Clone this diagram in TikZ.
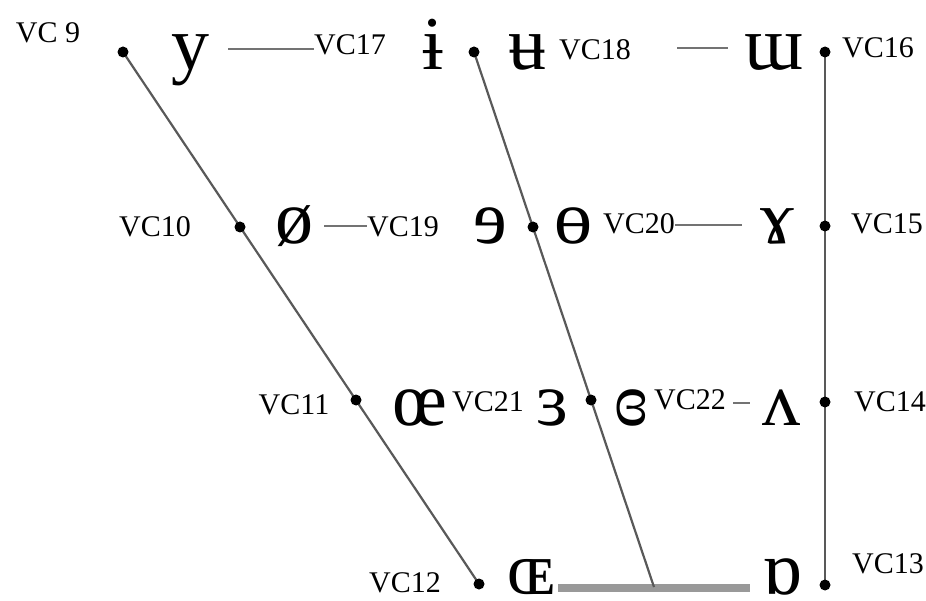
\documentclass[tikz,border=0pt]{standalone}
\usepackage{fontspec}
\setmainfont{Liberation Serif}
\begin{document}
\begin{tikzpicture}[x=1pt,y=-1pt,
  dot/.style={circle,fill=black,inner sep=0pt,minimum size=11pt},
  ipa/.style={font=\fontsize{76}{80}\selectfont,inner sep=0pt,anchor=base},
  vc/.style={font=\fontsize{30}{32}\selectfont,inner sep=0pt},
  chart/.style={draw=black!65,line width=2.2pt},
  tie/.style={draw=black!55,line width=2.4pt},
  basebar/.style={draw=black!40,line width=8pt}]
\useasboundingbox (0,0) rectangle (926,601);
% coordinates of the dots
\coordinate (p1) at (123,52);
\coordinate (p2) at (240,227);
\coordinate (p3) at (356,400);
\coordinate (p4) at (479,584);
\coordinate (q1) at (474,52);
\coordinate (q2) at (533,227);
\coordinate (q3) at (591,400);
\coordinate (qj) at (654,587);
\coordinate (r1) at (825,52);
\coordinate (r2) at (825,226);
\coordinate (r3) at (825,402);
\coordinate (r4) at (825,585);
\coordinate (b1) at (558,588);
\coordinate (b2) at (750,588);
% IPA symbols
\node[ipa] (y) at (190,70) {y};
\node[ipa] (ibar) at (433,70) {ɨ};
\node[ipa] (ubar) at (527,70) {ʉ};
\node[ipa] (mw) at (774,70) {ɯ};
\node[ipa] (oslash) at (294,244) {ø};
\node[ipa] (rev) at (490,244) {ɘ};
\node[ipa] (obar) at (573,244) {ɵ};
\node[ipa] (ram) at (777,244) {ɤ};
\node[ipa] (oe) at (420,425) {œ};
\node[ipa] (reps) at (552,425) {ɜ};
\node[ipa] (ceps) at (631,425) {ɞ};
\node[ipa] (wedge) at (781,425) {ʌ};
\node[ipa] (OE) at (531,594) {ɶ};
\node[ipa] (turna) at (782,594) {ɒ};
% labels
\node[vc] (vc9) at (48,33) {VC 9};
\node[vc] (vc17) at (350,45) {VC17};
\node[vc] (vc18) at (595,50) {VC18};
\node[vc] (vc16) at (878,48) {VC16};
\node[vc] (vc10) at (155,227) {VC10};
\node[vc] (vc19) at (403,227) {VC19};
\node[vc] (vc20) at (639,224) {VC20};
\node[vc] (vc15) at (887,224) {VC15};
\node[vc] (vc11) at (294,405) {VC11};
\node[vc] (vc21) at (488,402) {VC21};
\node[vc] (vc22) at (690,400) {VC22};
\node[vc] (vc14) at (890,402) {VC14};
\node[vc] (vc12) at (405,583) {VC12};
\node[vc] (vc13) at (888,564) {VC13};
% chart lines
\draw[basebar] (b1) -- (b2);
\draw[chart] (p1) -- (p4);
\draw[chart] (q1) -- (qj);
\draw[chart] (r1) -- (r4);
% short ties
\coordinate (t1) at (228,49);
\draw[tie] (t1) -- (t1 -| vc17.west);
\coordinate (t2a) at (677,48);
\coordinate (t2b) at (728,48);
\draw[tie] (t2a) -- (t2b);
\coordinate (t3) at (324,226);
\draw[tie] (t3) -- (t3 -| vc19.west);
\coordinate (t4) at (742,225);
\draw[tie] (t4 -| vc20.east) -- (t4);
\coordinate (t5a) at (733,403);
\coordinate (t5b) at (750,403);
\draw[tie] (t5a) -- (t5b);
% dots
\foreach \p in {p1,p2,p3,p4,q1,q2,q3,r1,r2,r3,r4}
  \node[dot] (dot-\p) at (\p) {};
\end{tikzpicture}
\end{document}
